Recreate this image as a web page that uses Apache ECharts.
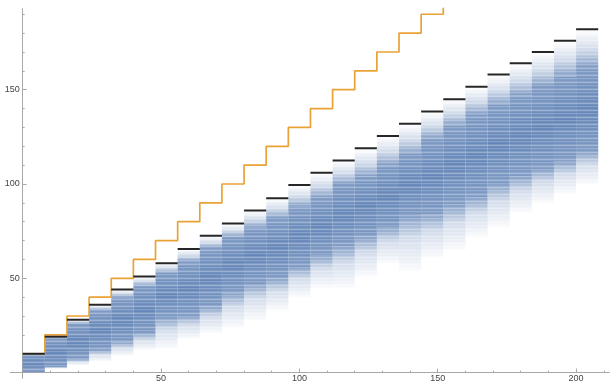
<!DOCTYPE html>
<html>
<head>
<meta charset="utf-8">
<script src="https://cdn.jsdelivr.net/npm/echarts@6/dist/echarts.min.js"></script>
<style>
  html, body { margin: 0; padding: 0; background: #fff; }
  #chart { width: 611px; height: 383px; }
</style>
</head>
<body>
<div id="chart"></div>
<script>
// width of one step on the x axis
const stepWidth = 8;

// black marks: top of each step's spread
const maxLevel = [10, 19, 28, 36, 44, 51, 58, 65.5, 72.5, 79, 86, 92.5, 99.5, 106, 112.5, 119, 125.5, 132, 138.5, 145, 151.5, 158, 164, 170, 176, 182];
// blue spread per step: top of the dense part, bottom of the dense part, lowest faint line
const denseTop = [10, 18, 26, 33, 40, 46, 53, 59, 66, 72, 77, 82, 88, 93, 100, 104, 110, 116, 124, 131, 137, 142, 147, 152, 157, 162];
const denseBottom = [0, 3, 7, 12, 16, 21, 29, 30, 35, 42, 47, 50, 56, 62, 67, 72, 77, 83, 84, 89, 93, 100, 104, 108, 112, 117];
const tailBottom = [0, 2, 4, 6, 9, 12, 13, 18, 21, 24, 28, 33, 40, 45, 45, 51, 58, 54, 61, 65, 72, 77, 85, 90, 95, 100];

// orange staircase
const orangeLevel = [10, 20, 30, 40, 50, 60, 70, 80, 90, 100, 110, 120, 130, 140, 150, 160, 170, 180, 190, 200];

// ticks
const xMajorTicks = [50, 100, 150, 200];
const xMinorTicks = [10, 20, 30, 40, 60, 70, 80, 90, 110, 120, 130, 140, 160, 170, 180, 190, 210];
const yMajorTicks = [50, 100, 150];
const yMinorTicks = [10, 20, 30, 40, 60, 70, 80, 90, 110, 120, 130, 140, 160, 170, 180, 190];

const blue = 'rgba(94,129,181,';
const axisGrey = '#a8a8a8';

// thin white streaks laid over the blue so it reads as many separate lines
const streak = document.createElement('canvas');
streak.width = 4;
streak.height = 7;
(function () {
  const g = streak.getContext('2d');
  const rows = [0.0, 0.22, 0.05, 0.0, 0.15, 0.32, 0.08];
  rows.forEach((a, r) => {
    g.fillStyle = 'rgba(255,255,255,' + a + ')';
    g.fillRect(0, r, 4, 1);
  });
})();

const chart = echarts.init(document.getElementById('chart'));

const bandData = maxLevel.map((m, i) => [i * stepWidth, (i + 1) * stepWidth, tailBottom[i], denseBottom[i], denseTop[i], m]);
const capData = maxLevel.map((m, i) => [i * stepWidth, (i + 1) * stepWidth, m]);
const orangeData = orangeLevel.map((v, i) => [i * stepWidth, v]);

const option = {
  animation: false,
  grid: [
    // data grid, starts at the origin
    { left: 22.7, right: 1.7, top: 8.6, bottom: 10.4, containLabel: false, outerBoundsMode: 'none' },
    // same scale, a little wider: axis lines run past the origin
    { left: 10.2, right: 1.7, top: 8.6, bottom: 4.7, containLabel: false, outerBoundsMode: 'none' }
  ],
  xAxis: [
    {
      type: 'value', gridIndex: 0, min: 0, max: 212,
      splitLine: { show: false },
      axisLine: { show: false },
      axisTick: { inside: true, length: 4, customValues: xMajorTicks, lineStyle: { color: axisGrey } },
      axisLabel: { customValues: xMajorTicks, margin: 1, fontSize: 9, color: '#444', fontFamily: 'Liberation Sans' }
    },
    {
      type: 'value', gridIndex: 1, min: -4.5, max: 212,
      splitLine: { show: false },
      axisLine: { onZero: true, lineStyle: { color: axisGrey, width: 1 } },
      axisTick: { inside: true, length: 2, customValues: xMinorTicks, lineStyle: { color: axisGrey } },
      axisLabel: { show: false }
    }
  ],
  yAxis: [
    {
      type: 'value', gridIndex: 0, min: 0, max: 193,
      splitLine: { show: false },
      axisLine: { show: false },
      axisTick: { inside: true, length: 4, customValues: yMajorTicks, lineStyle: { color: axisGrey } },
      axisLabel: { customValues: yMajorTicks, margin: 3, fontSize: 9, color: '#444', fontFamily: 'Liberation Sans' }
    },
    {
      type: 'value', gridIndex: 1, min: -3, max: 193,
      splitLine: { show: false },
      axisLine: { onZero: true, lineStyle: { color: axisGrey, width: 1 } },
      axisTick: { inside: true, length: 2, customValues: yMinorTicks, lineStyle: { color: axisGrey } },
      axisLabel: { show: false }
    }
  ],
  series: [
    {
      // blue spread of each step
      type: 'custom',
      xAxisIndex: 0, yAxisIndex: 0,
      clip: true,
      encode: { x: [0, 1], y: [2, 3, 4, 5] },
      data: bandData,
      renderItem: function (params, api) {
        const x0 = api.value(0), x1 = api.value(1);
        const pTop = api.coord([x0, api.value(5)]);
        const pDT = api.coord([x0, api.value(4)]);
        const pDB = api.coord([x0, api.value(3)]);
        const pTail = api.coord([x0, api.value(2)]);
        const w = api.coord([x1, 0])[0] - pTop[0];
        return {
          type: 'group',
          children: [
            {
              type: 'rect',
              shape: { x: pTop[0], y: pTop[1], width: w, height: pDT[1] - pTop[1] },
              style: {
                fill: new echarts.graphic.LinearGradient(0, 0, 0, 1, [
                  { offset: 0, color: blue + '0.0)' },
                  { offset: 0.15, color: blue + '0.07)' },
                  { offset: 0.55, color: blue + '0.3)' },
                  { offset: 1, color: blue + '0.78)' }
                ])
              }
            },
            {
              type: 'rect',
              shape: { x: pTop[0], y: pDT[1], width: w, height: pDB[1] - pDT[1] },
              style: {
                fill: new echarts.graphic.LinearGradient(0, 0, 0, 1, [
                  { offset: 0, color: blue + '0.8)' },
                  { offset: 0.5, color: blue + '0.97)' },
                  { offset: 1, color: blue + '0.8)' }
                ])
              }
            },
            {
              type: 'rect',
              shape: { x: pTop[0], y: pDB[1], width: w, height: pTail[1] - pDB[1] },
              style: {
                fill: new echarts.graphic.LinearGradient(0, 0, 0, 1, [
                  { offset: 0, color: blue + '0.78)' },
                  { offset: 0.4, color: blue + '0.28)' },
                  { offset: 1, color: blue + '0.03)' }
                ])
              }
            },
            {
              type: 'rect',
              shape: { x: pTop[0], y: pTop[1], width: w, height: pTail[1] - pTop[1] },
              style: { fill: { image: streak, repeat: 'repeat' } }
            }
          ]
        };
      },
      z: 1
    },
    {
      // orange staircase
      type: 'line',
      xAxisIndex: 0, yAxisIndex: 0,
      step: 'end',
      data: orangeData,
      showSymbol: false,
      symbol: 'none',
      lineStyle: { color: '#E8A236', width: 1.7 },
      z: 2
    },
    {
      // black caps
      type: 'custom',
      xAxisIndex: 0, yAxisIndex: 0,
      clip: true,
      encode: { x: [0, 1], y: 2 },
      data: capData,
      renderItem: function (params, api) {
        const a = api.coord([api.value(0), api.value(2)]);
        const b = api.coord([api.value(1), api.value(2)]);
        return {
          type: 'line',
          shape: { x1: a[0], y1: a[1], x2: b[0], y2: b[1] },
          style: { stroke: '#262626', lineWidth: 2 }
        };
      },
      z: 3
    }
  ]
};

chart.setOption(option);
</script>
</body>
</html>
